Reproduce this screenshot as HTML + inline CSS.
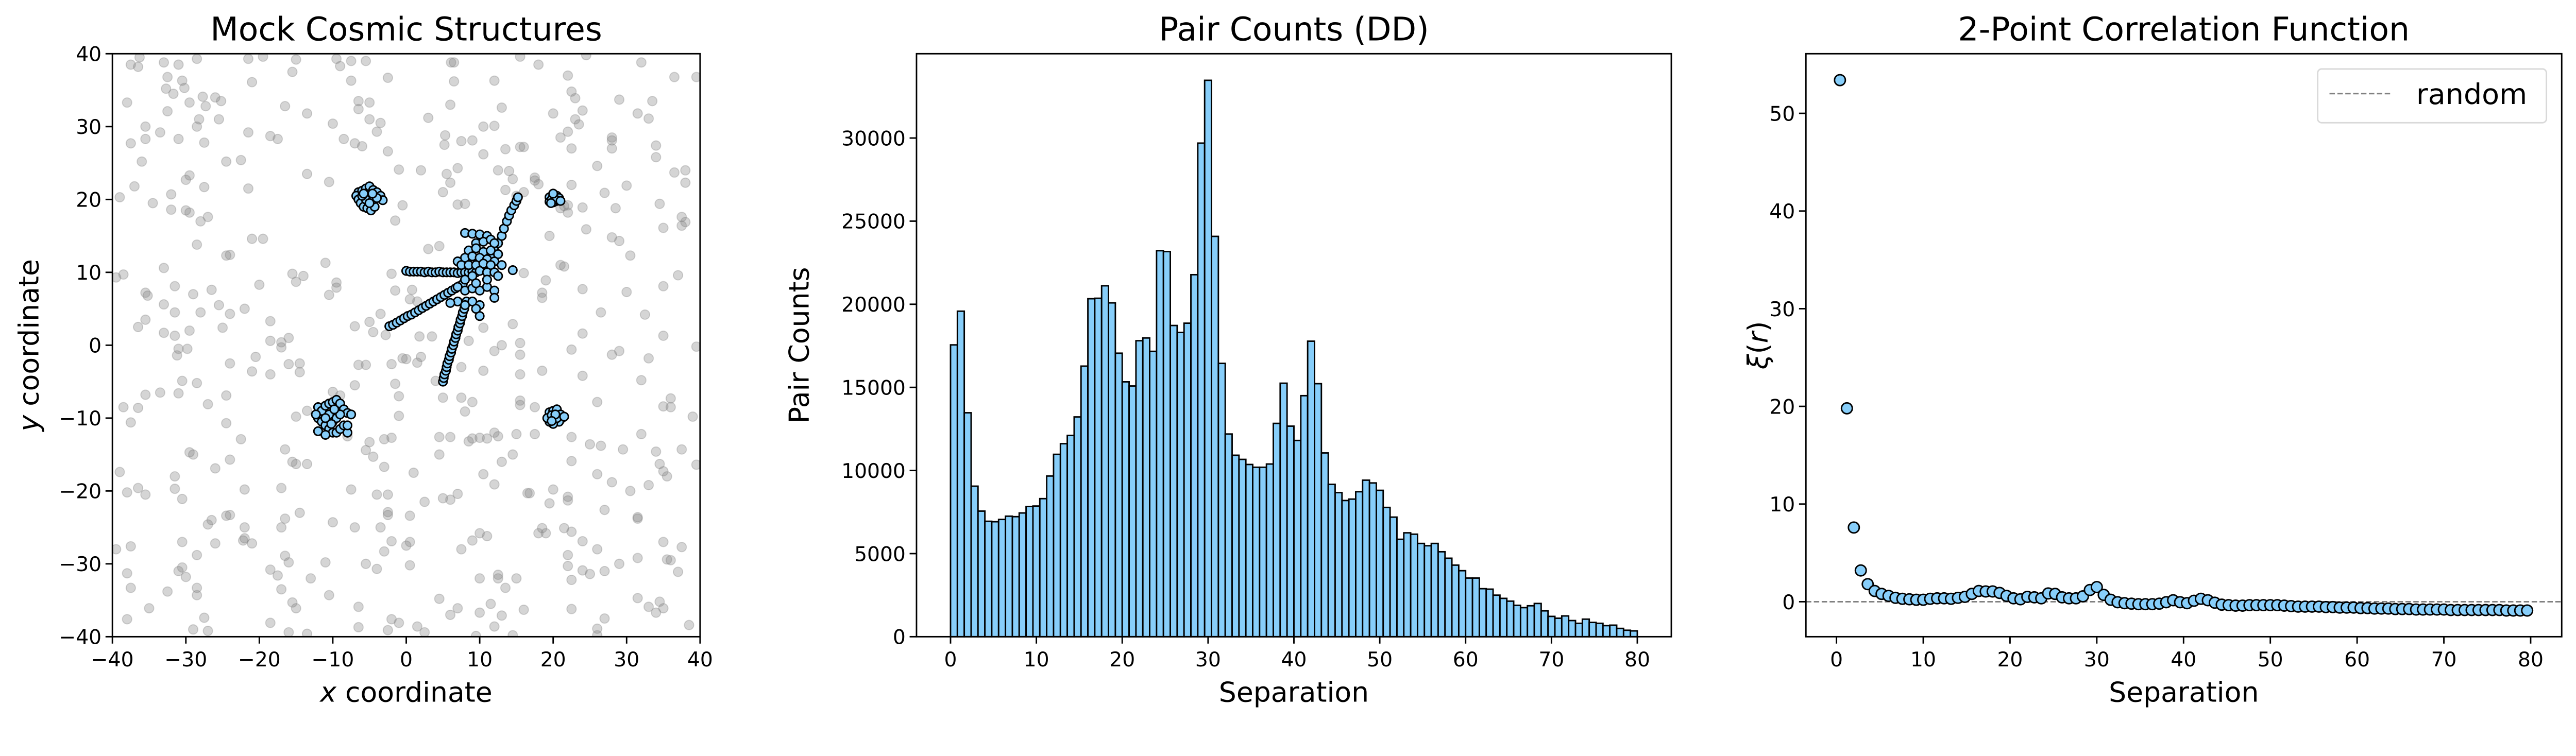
<!DOCTYPE html>
<html><head><meta charset="utf-8"><style>
html,body{margin:0;padding:0;background:#fff;overflow:hidden;width:100%;height:100%;}
svg{display:block;position:absolute;left:0;top:0;width:100vw;height:100vh;font-family:"DejaVu Sans","Liberation Sans",sans-serif;}
</style></head><body>
<svg id="fig" viewBox="0 0 5225 1468" preserveAspectRatio="xMinYMin meet" xmlns="http://www.w3.org/2000/svg">
<rect width="5225" height="1468" fill="#fff"/>
<g id="p1"></g>
<g id="p2"></g>
<g id="p3"></g>
</svg>
<script>
const bgPoints=[[-37.5,38.5],[-36.5,38.2],[-36.3,39.5],[-33,38.8],[-31,38.5],[-28.5,39.3],[-21.5,39.3],[-19.5,39.6],[-15,39.2],[-9.5,39.3],[-9,38.3],[-7.5,39],[-5.5,39],[-38,33.3],[-32.5,36.8],[-32.7,35.2],[-31.7,34.5],[-30.5,36.3],[-30.2,35.3],[-29.5,33.3],[-27.7,34.1],[-27.3,32.8],[-26,34],[-25.2,33.5],[-21,36.1],[-16.5,32.8],[-15.5,37.5],[-13.5,31.8],[-7.5,36.3],[-6.5,33.5],[-6.5,32.4],[-5,33.3],[-2.5,36.7],[-35.5,30],[-33.5,29.2],[-32.5,32.1],[-35.5,28.3],[-31,28.3],[-28.5,30],[-28.2,31],[-27.5,27.8],[-25.5,31],[-21.5,29.2],[-18.5,28.7],[-17.5,28.3],[-10,30.4],[-8.5,28.3],[-7,27.7],[-6,27.3],[-5,31],[-3.5,30.5],[-4,29.3],[-37.5,27.7],[-36,25.2],[-24.5,25.2],[-22.5,25.4],[-13.5,23.5],[-10.5,22.4],[-37,21.8],[-39,20.3],[-34.5,19.5],[-32,20.7],[-32,18.6],[-30,18.5],[-29.5,18.2],[-27.5,21.7],[-27,17.6],[-28,17],[-21.5,21.5],[-30,22.7],[-29.5,23.3],[-21,14.6],[-19.5,14.6],[-28.5,13.8],[-24.5,12.3],[-24,12.4],[-33,10.6],[-38.5,9.7],[-39.5,9.3],[-15.5,9.8],[-15,8.7],[-14,9.5],[-11,11.3],[-9.5,8.6],[-9.5,7.9],[-10.5,6.9],[-35.5,7.2],[-35.2,6.8],[-31.5,8.1],[-29,7],[-26.5,7.6],[-25.5,5.5],[-24,4.3],[-20,8.3],[-22,5],[-33,5.6],[-31.5,4.5],[-36.5,2.5],[-35.5,3.5],[-33,1.7],[-31.5,1.3],[-29.5,2],[-28,4.5],[-25,2.4],[-18.5,3.3],[-18.5,0.6],[-17,0.4],[-16,1],[-17,-0.3],[-7,2.6],[-5,3.2],[-4.5,1.8],[-3.5,4.3],[-2.8,1.4],[-31,-0.5],[-31.2,-1.4],[-29.8,-0.5],[-30.5,-4.9],[-28.5,-5.2],[-33.5,-6.5],[-31,-6.6],[-35.5,-6.8],[-38.5,-8.5],[-36.5,-8.6],[-27,-8.1],[-24.5,-6.9],[-24,-2.5],[-20.5,-1.6],[-21,-3.6],[-18.5,-4],[-16,-2.6],[-14.5,-2.5],[-14.5,-3.7],[-15,-9.8],[-13.5,-9],[-6.5,-2.7],[-5.5,-2.7],[-7,-5.5],[-37.5,-10.6],[-24.5,-10.7],[-22.5,-12.9],[-8,-12.5],[-5,-13.3],[-4.5,-15.3],[-3,-16.7],[-5.5,-14.4],[-29.5,-14.7],[-29,-15],[-24,-15.7],[-16.5,-14.3],[-15.5,-16],[-15,-16.3],[-13.5,-16.3],[-39,-17.4],[-38,-20.2],[-36.5,-19.6],[-35.5,-20.5],[-31.5,-18],[-31.5,-19.7],[-30.5,-21.1],[-26,-16.9],[-22,-19.8],[-17,-19.6],[-7.5,-19.8],[-39.5,-28],[-37.5,-27.6],[-30.5,-27],[-27,-24.6],[-26.5,-24],[-26,-27.2],[-24,-23.3],[-24.5,-23.4],[-22,-25],[-22,-26.5],[-22.2,-26.8],[-21,-27.2],[-17,-25],[-16.5,-23.8],[-14.5,-23],[-10,-24.3],[-7,-25],[-38,-31.3],[-37.5,-33.3],[-35,-36.1],[-32.5,-33.8],[-31,-31],[-30.5,-30.5],[-30,-31.8],[-28.5,-28.8],[-28.5,-33.3],[-28.5,-34.3],[-27.5,-37.4],[-38,-37.6],[-29,-39],[-27,-39.2],[-18.5,-30.8],[-17.5,-31.6],[-17,-33.5],[-16.5,-28.9],[-16,-29.8],[-15.5,-35.3],[-15,-36.1],[-13,-32],[-11,-29.8],[-10.5,-34.3],[-18.5,-38.1],[-16,-39.4],[-13.5,-39.6],[-6.5,-35.9],[-6.5,-38.7],[-5.5,-30],[-4,-30.7],[-3,-28.3],[-2.5,-23.3],[-2.5,-22.9],[-2,-26.9],[-3.5,-25],[-2.5,-20.5],[-4,-20.5],[-3,-12.9],[-2,-12.7],[-2,-37.6],[-2.5,-39.1],[-1,-38.1],[0,-27.5],[0.5,-27],[0.5,-30.2],[1,-17.5],[0.5,-23.4],[-1,-9.7],[-1,-7],[-1.5,-5.3],[0,-1.9],[1.5,-2.4],[-2,-2.6],[1.8,1.2],[0.5,6.3],[0.8,7.6],[-1.5,7.5],[-2,9.8],[1.5,6],[2,24],[3,31.2],[-1,24.1],[-0.5,19.2],[-1.5,17.1],[-2.5,26.6],[3,13.2],[4.5,13.6],[5,21],[5.5,23.5],[5.2,27.5],[5.3,28.8],[6,33],[6.1,38.8],[6.5,38.8],[6.5,36.2],[6,22.3],[7,24.3],[7,19.3],[8,19.4],[7.5,28],[9,28.1],[10.5,30],[10.5,26.2],[12,30.1],[12,36.3],[13,32.6],[12.5,24],[13.5,26.9],[13.5,21.3],[14,23.9],[14.5,22.8],[15.5,27.2],[15.5,39.6],[15,20.5],[16,21],[17.5,23],[18,38.5],[20,31.8],[21,28.5],[22,29.3],[22,37],[22.5,34.8],[23,33.9],[22.5,27],[22.5,22],[23,31],[23.5,30.3],[24,32.2],[24.5,39.8],[24.5,15.9],[24,18.9],[26,24.6],[27,20.9],[28,28.5],[28,28.1],[28,27],[28,14.8],[28.5,18.8],[29,14.3],[29,33.7],[30,21.9],[30,7.3],[30.5,12.3],[31.5,31.8],[32,38.8],[33,31.1],[33.5,33.5],[34,27.4],[34,25.8],[34.5,19.4],[35,16.1],[35,8.1],[35,1.3],[36.5,36.8],[36.5,23.7],[37.5,17.6],[37.5,16.4],[38,24],[38,22.3],[38,16.9],[37,9.6],[39.5,36.8],[39.5,-0.2],[21,11],[21.5,10.8],[24,7.7],[24,1.6],[26.5,4.5],[28,-1.3],[29,-0.8],[32.5,4.2],[32,-4.8],[33,-1.8],[36,-7.3],[35,-8.4],[36,-8.5],[39,-9.8],[39.5,-16.4],[37.5,-14.3],[34,-14.6],[34.5,-16.3],[35,-17.3],[35.5,-18],[33,-19.2],[32,-12.2],[29.5,-14.3],[27,-22.6],[26,-17.7],[28,-18.8],[30.5,-20],[31.5,-23.8],[31.5,-23.6],[26.5,-13.8],[26,-7.8],[25,-13.6],[24,-4.2],[22.5,-15.9],[22.5,-12.6],[22,-20.8],[22,-21.3],[21.5,-25.1],[22.5,-25.6],[24,-26.9],[26,-28],[27,-31],[29,-30],[22,-28.8],[22,-30.3],[22.5,-32.2],[24,-30.9],[25,-31.4],[22.5,-36.2],[26,-38.9],[26,-39.8],[27,-37.5],[31.5,-29.2],[31.5,-34.7],[33,-35.9],[34.5,-35.2],[35,-36.1],[34,-36.7],[35.5,-29.4],[36,-29.5],[37.5,-27.7],[37,-31.1],[38.5,-38.4],[35,-27],[19.5,-21.7],[18.5,-25.1],[18,-25.8],[19,-25.8],[16.5,-20.3],[16.8,-20.3],[17.5,-12.2],[17.5,-8.5],[15.5,-8.2],[15.5,-7.6],[15.5,-4],[15.5,-1.3],[15.5,0.3],[14.5,2.9],[13,0],[12,-0.8],[10.5,-3.5],[10.5,2.4],[8.5,0.6],[7.5,-3],[7.5,-7.2],[8,-9.1],[9,-7.8],[8.5,-13.2],[9,-12.8],[10,-12.7],[11,-12.8],[12,-12],[12.5,-12.5],[13,-16],[14.5,-15],[15,-12.2],[10.5,-17.7],[12,-19.1],[10,-25.8],[9,-26.8],[11,-26.2],[7.5,-28],[5,-21],[6,-21.2],[7,-20.4],[4.5,-15],[4.5,-12.6],[6,-12.6],[5,-7.2],[4,-4.9],[2.5,-21.5],[2.5,-39.4],[1.5,-38.6],[4.5,-34.8],[6,-37],[7,-36.1],[10,-32],[10,-36.7],[9.5,-39.9],[11.5,-35.5],[12,-38.6],[12.5,-32],[12.5,-31.5],[13,-37.1],[13.5,-33.3],[14.5,-39.8],[15,-32],[16,-36.3],[18.5,-3.5],[20,-19.8],[22.5,-0.6],[19,8.9],[18.5,7.2],[18.5,6.5],[16,9.9],[16,27.2],[17.5,22.6],[18,22.1],[21.5,19.1],[22,18.2],[22,19.2],[21,18.8],[19.5,15],[-10,-6.4],[-9,-6.9],[3.5,1.2],[2,-1.6],[-0.5,-1.8]];
const structPoints=[[0,10.2],[0.5,10.1],[1,10.1],[1.5,10.1],[2,10.1],[2.5,10],[3,10.1],[3.5,10],[4,10],[4.5,10.1],[5,10],[5.5,10],[6,10],[6.5,10],[7,9.9],[7.5,10],[8,10],[8.5,10],[9,10.1],[9.5,10],
[-2.3,2.6],[-1.8,2.8],[-1.3,3.1],[-0.8,3.4],[-0.3,3.7],[0.2,4],[0.7,4.2],[1.2,4.5],[1.7,4.8],[2.2,5.1],[2.7,5.4],[3.2,5.7],[3.7,6],[4.2,6.3],[4.7,6.6],[5.2,6.9],[5.7,7.2],[6.2,7.5],[6.7,7.8],[7.2,8.1],[7.7,8.4],
[5,-5],[5.1,-4.5],[5.2,-4],[5.4,-3.5],[5.5,-3],[5.6,-2.5],[5.8,-2],[5.9,-1.5],[6.1,-1],[6.2,-0.5],[6.4,0],[6.5,0.5],[6.7,1],[6.8,1.5],[7,2],[7.1,2.5],[7.3,3],[7.4,3.5],[7.6,4],[7.7,4.5],[7.9,5],[8.2,6],
[11.5,12],[12,13],[12.5,14],[13,15],[13.3,16],[13.7,17],[14,17.8],[14.3,18.5],[14.7,19.2],[15,19.8],[15.2,20.3],
[8,15.4],[9,15.3],[10,15.2],[11,15],[9.5,14],[10.5,14.2],[11.5,14.5],[12,14],[8.5,13],[9.5,13.3],[10.5,12.8],[11.5,13],[12.5,12.5],[8,12],[9,12.2],[10,12],[11,11.8],[12,11.5],[13,11],[7,11.5],[7.5,11],[8.5,11],[9.5,11],[10.5,11.2],[11.5,11],[14.5,10.3],[8,9],[9,9.5],[10,10.2],[11,10],[12,10],[7,8],[8,7.5],[9,7.8],[10,7.5],[11,8],[12,7.5],[7,6],[8,5.5],[9,6],[10,5.5],[12,6.5],[10,4],[9.5,5],[11,9],[12.5,9.5],[6,5.8],[9.5,8.5],
[-6.5,21],[-6,21.2],[-5.5,21.5],[-5,21.8],[-4.5,21.3],[-4,21],[-3.5,20.5],[-3.2,19.9],[-6.8,20.5],[-6.5,20],[-6.2,19.5],[-5.8,19],[-5.3,18.8],[-4.8,18.5],[-4.3,19],[-5,20.3],[-5.5,20],[-4.5,20],[-4,20.2],[-6,20.5],[-5,19.5],[-4.6,20.8],[-5.8,20.8],
[-12,-8.5],[-11.5,-9],[-11,-8.3],[-10.5,-8],[-10,-7.8],[-9.5,-7.5],[-9,-8],[-8.5,-8.8],[-8,-9.3],[-7.5,-9.5],[-12,-10],[-11.5,-10.5],[-11,-11],[-10.5,-11.5],[-10,-12],[-9.5,-12],[-9,-11.5],[-8.5,-11],[-8,-12],[-12,-11.8],[-11,-12.3],[-10,-10.5],[-9.5,-10],[-9,-9.5],[-10.5,-9.5],[-11,-10],[-8,-11],[-12.3,-9.5],[-9.8,-8.8],[-10.2,-10.8],
[19.5,20.3],[20,20.5],[20.5,20.5],[20.8,20.2],[20.5,19.8],[20,19.6],[19.5,19.7],[19.8,20],[20.3,20],[21,19.8],[20,20.8],[19.7,19.5],
[19.5,-9.2],[20,-9],[20.5,-8.8],[21,-9.5],[21.2,-10],[20.8,-10.5],[20,-10.8],[19.5,-10.5],[19.2,-10],[20,-10],[20.5,-10],[19.8,-9.6],[20.3,-9.5],[19.8,-10.4],[21.5,-9.8]];
const p1Ticks=[-40,-30,-20,-10,0,10,20,30,40];

const ddCounts=[17556,19583,13472,9056,7556,6944,6917,7056,7250,7222,7444,7833,7861,8306,9667,10972,11611,12111,13222,16278,20333,20361,21111,20083,17056,15333,15083,17806,17972,17167,23222,23167,18722,18306,18861,21778,29694,33472,24083,16444,12194,10917,10667,10361,10194,10194,10389,12833,15250,12667,11806,14500,17778,15222,11056,9167,8667,8194,8278,8722,9417,9250,8806,7778,7194,5861,6250,6167,5611,5472,5611,5111,4722,4306,3972,3528,3528,2889,2861,2500,2306,2139,1889,1750,1861,2000,1556,1222,1111,1250,972,806,1056,861,806,667,694,500,389,350];
const binEdgesStart=0, binEdgesEnd=80;
const p2XTicks=[0,10,20,30,40,50,60,70,80];
const p2YTicks=[0,5000,10000,15000,20000,25000,30000];

const xiValues=[53.4,19.8,7.6,3.2,1.8,1.1,0.8,0.6,0.4,0.3,0.25,0.2,0.2,0.3,0.35,0.35,0.3,0.4,0.5,0.8,1.1,1.05,1.05,0.9,0.6,0.35,0.25,0.5,0.45,0.35,0.85,0.8,0.45,0.35,0.35,0.55,1.2,1.5,0.7,0.2,-0.05,-0.15,-0.2,-0.25,-0.25,-0.25,-0.2,-0.05,0.15,-0.05,-0.15,0.1,0.3,0.15,-0.1,-0.3,-0.35,-0.4,-0.4,-0.35,-0.35,-0.35,-0.35,-0.35,-0.4,-0.45,-0.5,-0.5,-0.5,-0.5,-0.55,-0.55,-0.6,-0.6,-0.6,-0.65,-0.65,-0.7,-0.7,-0.7,-0.75,-0.75,-0.75,-0.8,-0.8,-0.8,-0.8,-0.8,-0.85,-0.85,-0.85,-0.85,-0.85,-0.85,-0.85,-0.85,-0.9,-0.9,-0.9,-0.9];
const p3XTicks=[0,10,20,30,40,50,60,70,80];
const p3YTicks=[0,10,20,30,40,50];

const NS='http://www.w3.org/2000/svg';
function mk(parent,tag,attrs,text){const e=document.createElementNS(NS,tag);for(const k in attrs)e.setAttribute(k,attrs[k]);if(text!==undefined)e.textContent=text;parent.appendChild(e);return e;}
function lin(d0,d1,r0,r1){return v=>r0+(v-d0)*(r1-r0)/(d1-d0);}
const TOP=109,BOT=1292,TF=41;
function fmt(v){return v<0?'\u2212'+Math.abs(v):String(v);}
function frame(g,L,R){const f=mk(g,'rect',{x:L,y:TOP,width:R-L,height:BOT-TOP,fill:'none',stroke:'#000','stroke-width':3});

}
function xticks(g,ticks,sx){ticks.forEach(t=>{const x=sx(t);
const l=mk(g,'line',{x1:x,x2:x,y1:BOT,y2:BOT+14,stroke:'#000','stroke-width':3});


const tx=mk(g,'text',{x:x,y:1352,'font-size':TF,'text-anchor':'middle'},fmt(t));

});}
function yticks(g,ticks,sy,L){ticks.forEach(t=>{const y=sy(t);
const l=mk(g,'line',{x1:L-14,x2:L,y1:y,y2:y,stroke:'#000','stroke-width':3});


const tx=mk(g,'text',{x:L-22,y:y+15,'font-size':TF,'text-anchor':'end'},fmt(t));

});}
function title(g,cx,s){const t=mk(g,'text',{x:cx,y:82,'font-size':66,'text-anchor':'middle'},s);

}
function xlabel(g,cx,html){const t=mk(g,'text',{x:cx,y:1424,'font-size':56,'text-anchor':'middle'});t.innerHTML=html;

}
function ylabel(g,x,cy,html){const t=mk(g,'text',{x:x,y:cy,'font-size':56,'text-anchor':'middle',transform:`rotate(-90 ${x} ${cy})`});t.innerHTML=html;

}

(function(){const g=document.getElementById('p1');const L=228,R=1420;
const sx=lin(-40,40,L,R),sy=lin(-40,40,BOT,TOP);
const clip=mk(g,'clipPath',{id:'c1'});mk(clip,'rect',{x:L,y:TOP,width:R-L,height:BOT-TOP});
const pg=mk(g,'g',{'clip-path':'url(#c1)'});
bgPoints.forEach(p=>{const c=mk(pg,'circle',{cx:sx(p[0]),cy:sy(p[1]),r:9.5,fill:'#808080','fill-opacity':0.33,stroke:'#808080','stroke-opacity':0.33,'stroke-width':2});

});
structPoints.forEach(p=>{const c=mk(pg,'circle',{cx:sx(p[0]),cy:sy(p[1]),r:8.5,fill:'#87cefa',stroke:'#000','stroke-width':3});

});
frame(g,L,R);xticks(g,p1Ticks,sx);yticks(g,p1Ticks,sy,L);
title(g,(L+R)/2,'Mock Cosmic Structures');
xlabel(g,(L+R)/2,'<tspan font-style="italic">x</tspan> coordinate');
ylabel(g,78,(TOP+BOT)/2,'<tspan font-style="italic">y</tspan> coordinate');})();

(function(){const g=document.getElementById('p2');const L=1859,R=3390;
const sx=lin(0,80,1928,3321),sy=lin(0,35072,BOT,TOP);
const n=ddCounts.length,w=(binEdgesEnd-binEdgesStart)/n;
ddCounts.forEach((v,i)=>{const x0=sx(binEdgesStart+i*w),x1=sx(binEdgesStart+(i+1)*w);
const b=mk(g,'rect',{x:x0,y:sy(v),width:x1-x0,height:BOT-sy(v),fill:'#87cefa',stroke:'#000','stroke-width':3});

});
frame(g,L,R);xticks(g,p2XTicks,sx);yticks(g,p2YTicks,sy,L);
title(g,(L+R)/2,'Pair Counts (DD)');
xlabel(g,(L+R)/2,'Separation');
ylabel(g,1640,(TOP+BOT)/2,'Pair Counts');})();

(function(){const g=document.getElementById('p3');const L=3663,R=5196;
const sx=lin(0,80,3725,5133),sy=lin(0,50,1221,230);
const dl=mk(g,'line',{x1:L,x2:R,y1:sy(0),y2:sy(0),stroke:'#808080','stroke-width':3,'stroke-dasharray':'11 5'});


const n=xiValues.length,w=80/n;
xiValues.forEach((v,i)=>{const c=mk(g,'circle',{cx:sx((i+0.5)*w),cy:sy(v),r:11,fill:'#87cefa',stroke:'#000','stroke-width':3});

});
frame(g,L,R);xticks(g,p3XTicks,sx);yticks(g,p3YTicks,sy,L);
title(g,(L+R)/2,'2-Point Correlation Function');
xlabel(g,(L+R)/2,'Separation');
ylabel(g,3585,(TOP+BOT)/2,'<tspan font-style="italic">ξ</tspan>(<tspan font-style="italic">r</tspan>)');
const lg=mk(g,'g',{});


mk(lg,'rect',{x:4701,y:140,width:464,height:109,rx:8,fill:'#fff',stroke:'#d9d9d9','stroke-width':3});
mk(lg,'line',{x1:4725,x2:4850,y1:190,y2:190,stroke:'#808080','stroke-width':3,'stroke-dasharray':'11 5'});
const lt=mk(lg,'text',{x:4901,y:211,'font-size':58},'random');

})();
</script>
</body></html>
